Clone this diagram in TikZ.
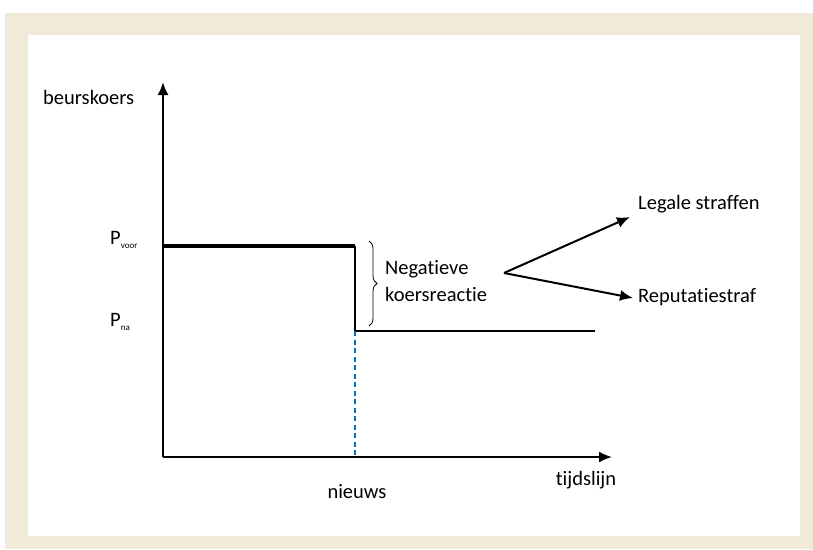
\documentclass[tikz,border=0pt]{standalone}
\usepackage{fontspec}
\setmainfont[Ligatures={NoCommon,NoContextual}]{Carlito}
\usetikzlibrary{arrows.meta,decorations.pathreplacing}
\definecolor{framebeige}{RGB}{242,234,216}
\definecolor{newsblue}{RGB}{0,112,192}
\newcommand{\psub}[1]{P\raisebox{-0.5ex}{\fontsize{9}{10}\selectfont #1}}

\begin{document}
\begin{tikzpicture}[x=1pt, y=-1pt, >={Latex[length=13pt,width=11pt]},
  ax/.style={line width=2pt},
  lab/.style={font=\fontsize{20.5}{27}\selectfont, inner sep=0pt}]
\useasboundingbox (0,0) rectangle (813,549);
% frame
\fill[framebeige] (5,13) rectangle (813,549);
\fill[white] (28,35) rectangle (800,536);
% axes
\coordinate (o) at (163,457);
\coordinate (ytop) at (163,82);
\coordinate (xend) at (612,457);
\draw[ax,->] (o) -- (ytop);
\draw[ax,->] (o) -- (xend);
% price path
\coordinate (pv) at (163,246);
\coordinate (drop) at (355,246);
\coordinate (pn) at (355,331);
\coordinate (pend) at (595,331);
\coordinate (news) at (355,456);
\draw[line width=3.5pt] (pv) -- (drop);
\draw[line width=2.2pt] (drop) -- (pn) -- (pend);
\draw[newsblue, line width=2pt, dash pattern=on 5pt off 3.5pt] (pn) -- (news);
% brace
\coordinate (btop) at (369,241);
\coordinate (bbot) at (369,326);
\draw[line width=0.8pt, decorate, decoration={brace, amplitude=8pt}] (btop) -- (bbot);
% labels
\node[lab, anchor=west] (koers) at (43,97) {beurskoers};
\node[lab, anchor=west] (voor) at (110,240) {\psub{voor}};
\node[lab, anchor=west] (na) at (110,322) {\psub{na}};
\node[lab, align=left, anchor=west] (neg) at (385,281) {Negatieve\\koersreactie};
\node[lab] (nieuws) at (357,492) {nieuws};
\node[lab] (tijd) at (586,480) {tijdslijn};
\node[lab, anchor=west] (legaal) at (638,204) {Legale straffen};
\node[lab, anchor=west] (reput) at (638,297) {Reputatiestraf};
% consequences
\coordinate (split) at (504,273);
\draw[ax,->] (split) -- (630,217);
\draw[ax,->] (split) -- (633,298);
\end{tikzpicture}
\end{document}
